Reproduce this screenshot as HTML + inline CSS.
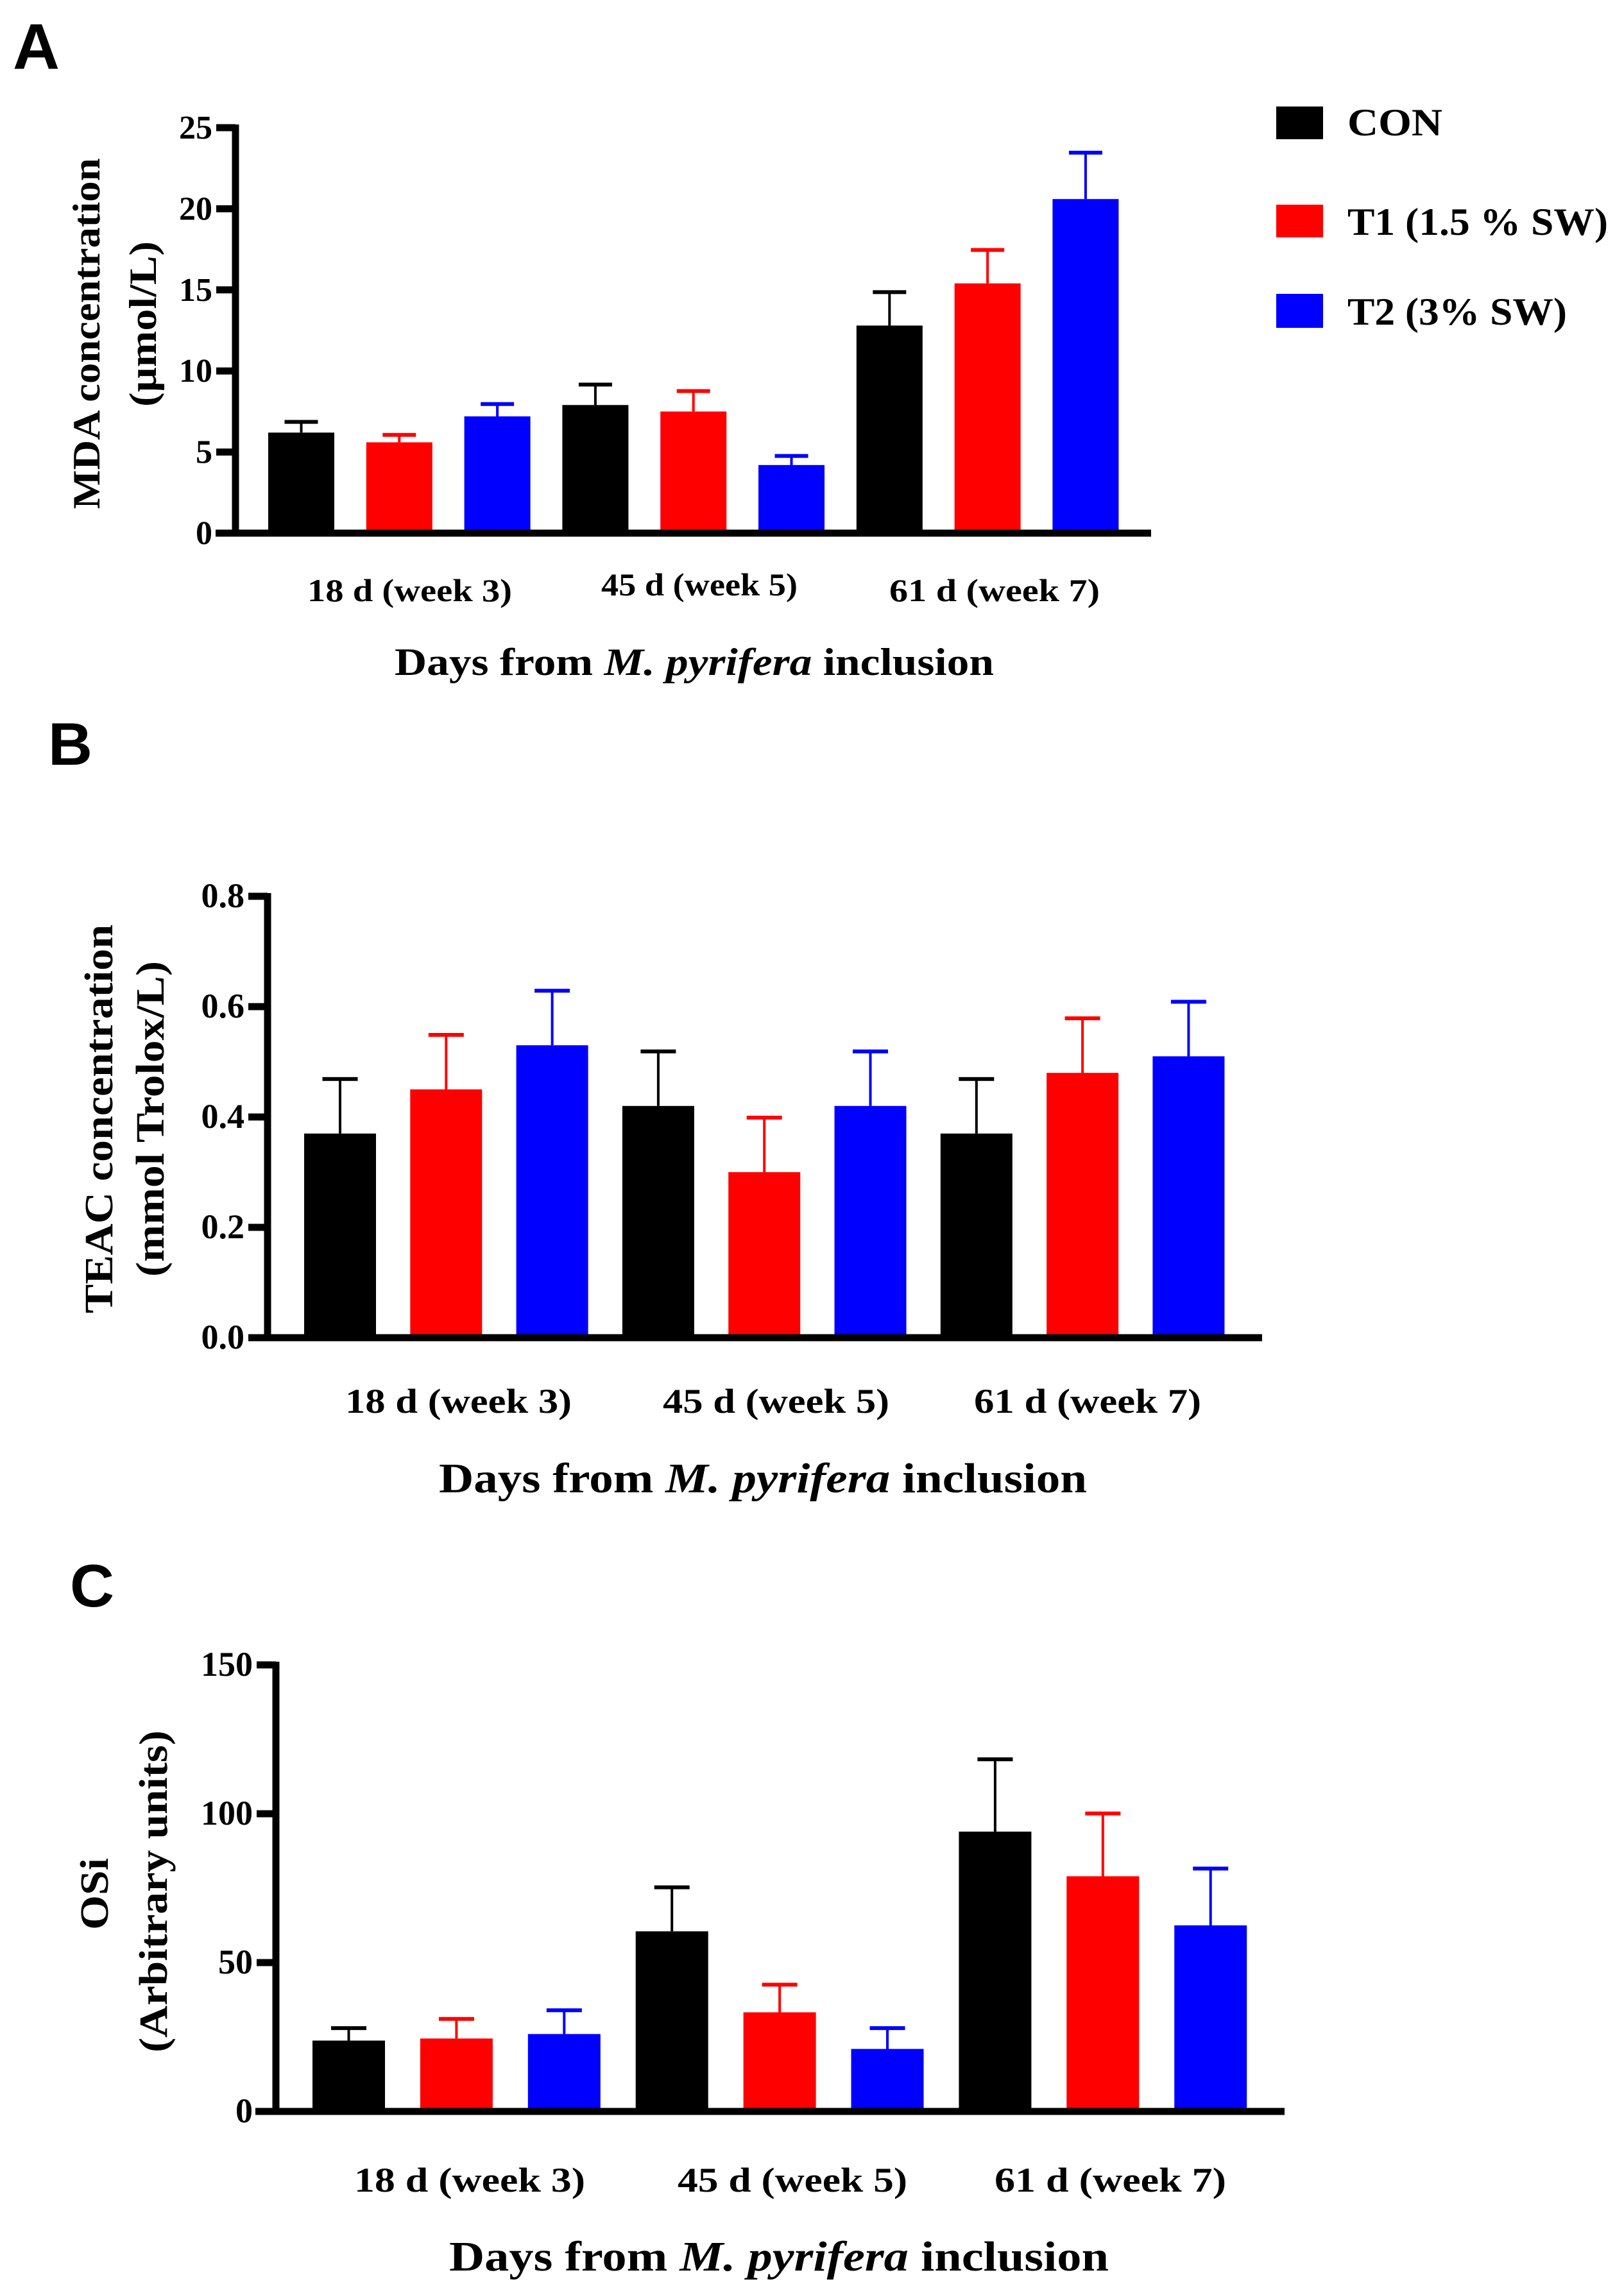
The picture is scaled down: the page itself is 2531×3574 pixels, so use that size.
<!DOCTYPE html>
<html><head><meta charset="utf-8"><style>
html,body{margin:0;padding:0;background:#fff;}
svg{display:block;}
text{font-family:"Liberation Serif",serif;font-weight:bold;fill:#000;}
.lbl{font-family:"Liberation Sans",sans-serif;font-weight:bold;}
</style></head><body>
<svg id="fig" width="2531" height="3574" viewBox="0 0 2531 3574" xmlns="http://www.w3.org/2000/svg">
<rect width="2531" height="3574" fill="#fff"/>
<text class="lbl" x="20" y="107" font-size="100" textLength="73" lengthAdjust="spacingAndGlyphs">A</text>
<text class="lbl" x="75" y="1192" font-size="94" textLength="69" lengthAdjust="spacingAndGlyphs">B</text>
<text class="lbl" x="109" y="2504" font-size="94" textLength="69" lengthAdjust="spacingAndGlyphs">C</text>
<g>
<rect x="1989" y="166" width="73" height="51" fill="#000"/>
<text x="2100" y="211" font-size="60" textLength="148" lengthAdjust="spacingAndGlyphs">CON</text>
<rect x="1989" y="319" width="73" height="51" fill="#f00"/>
<text x="2100" y="366" font-size="60" textLength="406" lengthAdjust="spacingAndGlyphs">T1 (1.5 % SW)</text>
<rect x="1989" y="458" width="73" height="53" fill="#00f"/>
<text x="2100" y="506" font-size="60" textLength="342" lengthAdjust="spacingAndGlyphs">T2 (3% SW)</text>
</g>
</svg>
<script>
// Panel A: MDA
const categoriesA = ["18 d (week 3)", "45 d (week 5)", "61 d (week 7)"];
const conA = [6.2, 7.9, 12.8];
const t1A = [5.6, 7.5, 15.4];
const t2A = [7.2, 4.2, 20.6];
const conErrA = [6.9, 9.2, 14.9];
const t1ErrA = [6.1, 8.8, 17.5];
const t2ErrA = [8.0, 4.8, 23.5];
const ticksA = [0, 5, 10, 15, 20, 25];
// Panel B: TEAC
const categoriesB = ["18 d (week 3)", "45 d (week 5)", "61 d (week 7)"];
const conB = [0.37, 0.42, 0.37];
const t1B = [0.45, 0.30, 0.48];
const t2B = [0.53, 0.42, 0.51];
const conErrB = [0.47, 0.52, 0.47];
const t1ErrB = [0.55, 0.40, 0.58];
const t2ErrB = [0.63, 0.52, 0.61];
const ticksB = [0.0, 0.2, 0.4, 0.6, 0.8];
const tickLabelsB = ["0.0", "0.2", "0.4", "0.6", "0.8"];
// Panel C: OSi
const categoriesC = ["18 d (week 3)", "45 d (week 5)", "61 d (week 7)"];
const conC = [23.8, 60.5, 94];
const t1C = [24.5, 33.3, 79];
const t2C = [26, 21, 62.5];
const conErrC = [28.2, 75.5, 118.5];
const t1ErrC = [31.3, 42.8, 100.3];
const t2ErrC = [34.2, 28.2, 81.8];
const ticksC = [0, 50, 100, 150];

const NS = "http://www.w3.org/2000/svg";
const svg = document.getElementById("fig");
const colors = ["#000", "#f00", "#00f"];
const seriesNames = ["con", "t1", "t2"];

function mk(tag, attrs, parent) {
  const el = document.createElementNS(NS, tag);
  for (const k in attrs) el.setAttribute(k, attrs[k]);
  (parent || svg).appendChild(el);
  return el;
}

function panel(cfg) {
  const g = mk("g", {});
  
  
  const yScale = v => cfg.zeroY - (v - cfg.min) / (cfg.max - cfg.min) * (cfg.zeroY - cfg.topY);
  const vals = [cfg.con, cfg.t1, cfg.t2];
  const errs = [cfg.conErr, cfg.t1Err, cfg.t2Err];
  for (let c = 0; c < cfg.cats.length; c++) {
    for (let s = 0; s < 3; s++) {
      const x = cfg.firstBar + (c * 3 + s) * cfg.pitch;
      const cx = x + cfg.barW / 2;
      const eTop = yScale(errs[s][c]);
      const top = yScale(vals[s][c]);
      const ln = mk("line", {x1: cx, x2: cx, y1: eTop, y2: top, stroke: colors[s], "stroke-width": 4}, g);
      
      
      const cap = mk("rect", {x: cx - cfg.capW / 2, y: eTop - 2, width: cfg.capW, height: 6, fill: colors[s]}, g);
      
      
      const r = mk("rect", {x: x, y: top, width: cfg.barW, height: cfg.zeroY - top, fill: colors[s]}, g);
      
      
    }
  }
  const ya = mk("rect", {x: cfg.axisX - 5.5, y: cfg.topY - 5, width: 11, height: cfg.zeroY - cfg.topY + 5}, g);
  
  
  const xa = mk("rect", {x: cfg.xStart, y: cfg.zeroY - 5.5, width: cfg.xEnd - cfg.xStart, height: 11}, g);
  
  
  cfg.ticks.forEach((t, i) => {
    const y = yScale(t);
    const tk = mk("rect", {x: cfg.axisX - 30, y: y - 5.5, width: 30, height: 11}, g);
    
    
    const tl = mk("text", {x: cfg.axisX - 36, y: y + 17, "font-size": cfg.tickFont, "text-anchor": "end"}, g);
    tl.textContent = cfg.tickLabels ? cfg.tickLabels[i] : String(t);
    
    
  });
  cfg.cats.forEach((c, i) => {
    const lb = cfg.catBox[i];
    const t = mk("text", {x: lb[0], y: lb[2], "font-size": cfg.catFont, textLength: lb[1] - lb[0], lengthAdjust: "spacingAndGlyphs"}, g);
    t.textContent = c;
    
    
  });
  const xt = mk("text", {x: cfg.xTitle[0], y: cfg.xTitle[2], "font-size": cfg.titleFont, textLength: cfg.xTitle[1] - cfg.xTitle[0], lengthAdjust: "spacingAndGlyphs"}, g);
  
  
  xt.appendChild(document.createTextNode("Days from "));
  const it = mk("tspan", {"font-style": "italic"}, xt);
  it.textContent = "M. pyrifera";
  xt.appendChild(document.createTextNode(" inclusion"));
  cfg.yTitles.forEach((yt, i) => {
    const t = mk("text", {x: 0, y: 0, "font-size": cfg.yFont, "text-anchor": "middle", textLength: yt[3], lengthAdjust: "spacingAndGlyphs",
      transform: "translate(" + yt[1] + "," + yt[2] + ") rotate(-90)"}, g);
    t.textContent = yt[0];
    
    
  });
}

panel({id: "mda", cats: categoriesA, con: conA, t1: t1A, t2: t2A, conErr: conErrA, t1Err: t1ErrA, t2Err: t2ErrA,
  ticks: ticksA, min: 0, max: 25, topY: 199, zeroY: 831, axisX: 367, xStart: 336, xEnd: 1794,
  firstBar: 418, pitch: 152.8, barW: 103, capW: 52, tickFont: 52, catFont: 50, titleFont: 60, yFont: 60,
  catBox: [[479, 798, 937], [937, 1243, 928], [1386, 1714, 937]], xTitle: [615, 1549, 1052],
  yTitles: [["MDA concentration", 155, 520, 547], ["(\u00b5mol/L)", 243, 505, 258]]});

panel({id: "teac", cats: categoriesB, con: conB, t1: t1B, t2: t2B, conErr: conErrB, t1Err: t1ErrB, t2Err: t2ErrB,
  ticks: ticksB, tickLabels: tickLabelsB, min: 0, max: 0.8, topY: 1397, zeroY: 2085, axisX: 417, xStart: 387, xEnd: 1967,
  firstBar: 474, pitch: 165.3, barW: 112, capW: 55, tickFont: 54, catFont: 54, titleFont: 66, yFont: 62,
  catBox: [[538, 891, 2202], [1033, 1386, 2202], [1518, 1872, 2202]], xTitle: [684, 1694, 2326],
  yTitles: [["TEAC concentration", 175, 1744, 606], ["(mmol Trolox/L)", 255, 1744, 492]]});

panel({id: "osi", cats: categoriesC, con: conC, t1: t1C, t2: t2C, conErr: conErrC, t1Err: t1ErrC, t2Err: t2ErrC,
  ticks: ticksC, min: 0, max: 150, topY: 2595, zeroY: 3291, axisX: 430, xStart: 398, xEnd: 2002,
  firstBar: 487, pitch: 167.9, barW: 113, capW: 55, tickFont: 54, catFont: 54, titleFont: 66, yFont: 62,
  catBox: [[552, 912, 3416], [1056, 1414, 3416], [1550, 1911, 3416]], xTitle: [700, 1728, 3539],
  yTitles: [["OSi", 168, 2952, 112], ["(Arbitrary units)", 260, 2948, 502]]});
</script>
</body></html>
